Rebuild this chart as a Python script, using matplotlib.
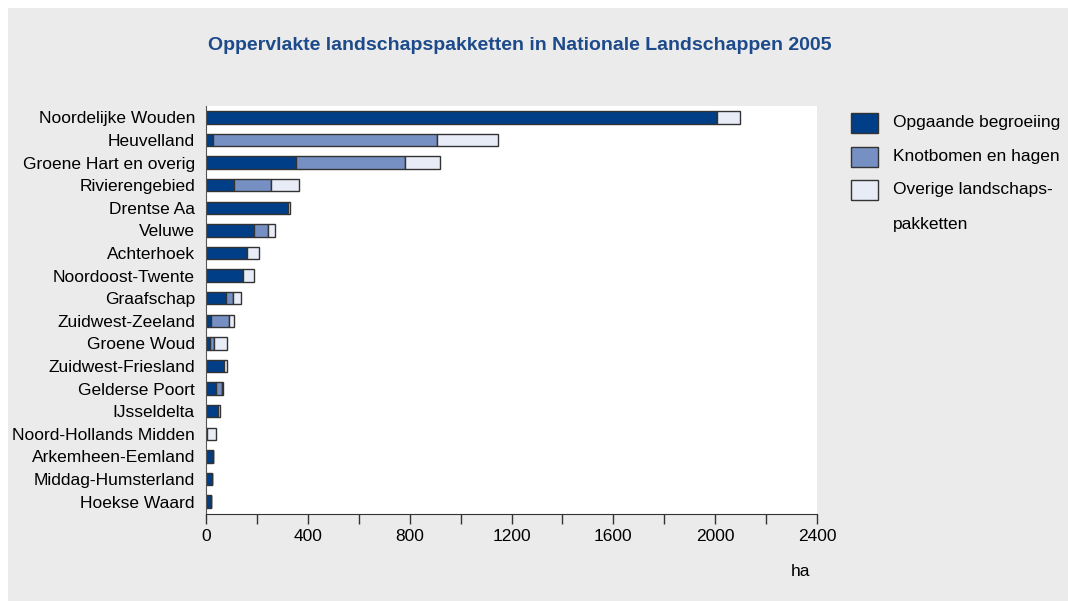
import matplotlib
matplotlib.use("Agg")
import matplotlib.pyplot as plt
from matplotlib.patches import Rectangle
import numpy as np

plt.rcParams['font.family'] = ['Liberation Sans Narrow', 'Liberation Sans', 'DejaVu Sans']

categories = ["Noordelijke Wouden", "Heuvelland", "Groene Hart en overig", "Rivierengebied",
              "Drentse Aa", "Veluwe", "Achterhoek", "Noordoost-Twente", "Graafschap",
              "Zuidwest-Zeeland", "Groene Woud", "Zuidwest-Friesland", "Gelderse Poort",
              "IJsseldelta", "Noord-Hollands Midden", "Arkemheen-Eemland",
              "Middag-Humsterland", "Hoekse Waard"]
opgaande = [2007, 28, 355, 111, 322, 187, 163, 145, 79, 18, 17, 72, 38, 47, 5, 26, 22, 20]
knotbomen = [0, 881, 425, 146, 0, 56, 0, 0, 26, 71, 14, 0, 24, 0, 0, 0, 0, 0]
overige = [90, 239, 139, 107, 9, 29, 44, 43, 34, 22, 53, 12, 3, 9, 33, 3, 2, 1]
series_names = ["Opgaande begroeiing", "Knotbomen en hagen", "Overige landschaps-", "pakketten"]
xticks = [0, 400, 800, 1200, 1600, 2000, 2400]
title = "Oppervlakte landschapspakketten in Nationale Landschappen 2005"

colors = ["#003f87", "#7690c4", "#e8ecf6"]
edge = "#333333"
bg = "#ebebeb"
title_color = "#1d4a8a"

W, H = 1068, 601
fig = plt.figure(figsize=(W / 100, H / 100), dpi=100)
fig.patch.set_facecolor("white")
fig.add_artist(Rectangle((8 / W, 0), 1 - 8 / W, 1 - 8 / H, transform=fig.transFigure,
                         facecolor=bg, edgecolor="none", zorder=-10))

ax = fig.add_axes([206 / W, 1 - 514 / H, (817 - 206) / W, (514 - 106) / H])
ax.set_facecolor("white")

y = np.arange(len(categories))
left = np.zeros(len(categories))
for vals, c in zip([opgaande, knotbomen, overige], colors):
    v = np.array(vals, dtype=float)
    ax.barh(y, v, left=left, height=0.55, color=c, edgecolor=edge, linewidth=1.0)
    left += v

ax.set_ylim(len(categories) - 0.5 + 0.05, -0.5)
ax.set_xlim(0, 2400)
ax.set_xticks(xticks)
ax.set_xticks(np.arange(200, 2400, 400), minor=True)
ax.set_yticks(y)
ax.set_yticklabels(categories, fontsize=12.5)
ax.tick_params(axis='y', length=0, pad=8)
ax.tick_params(axis='x', which='both', direction='out', length=7, width=1, color=edge,
               labelsize=12.5, pad=4)
for s in ["top", "right"]:
    ax.spines[s].set_visible(False)
ax.spines["left"].set_color("#555555")
ax.spines["bottom"].set_color(edge)

fig.text(800 / W, 1 - 572 / H, "ha", ha="center", va="center", fontsize=12.5)
fig.text(520 / W, 1 - 45 / H, title, ha="center", va="center", fontsize=14,
         fontweight="bold", color=title_color)

# legend
rows_y = [123, 157, 190]
for c, ry in zip(colors, rows_y):
    fig.add_artist(Rectangle((851 / W, 1 - (ry + 10) / H), 27 / W, 20 / H,
                             transform=fig.transFigure, facecolor=c, edgecolor=edge,
                             linewidth=1.0))
for name, ty in zip(series_names, [123, 157, 190, 224]):
    fig.text(893 / W, 1 - ty / H, name, ha="left", va="center", fontsize=12.5)

fig.savefig("out.png", dpi=100, facecolor=fig.get_facecolor())
